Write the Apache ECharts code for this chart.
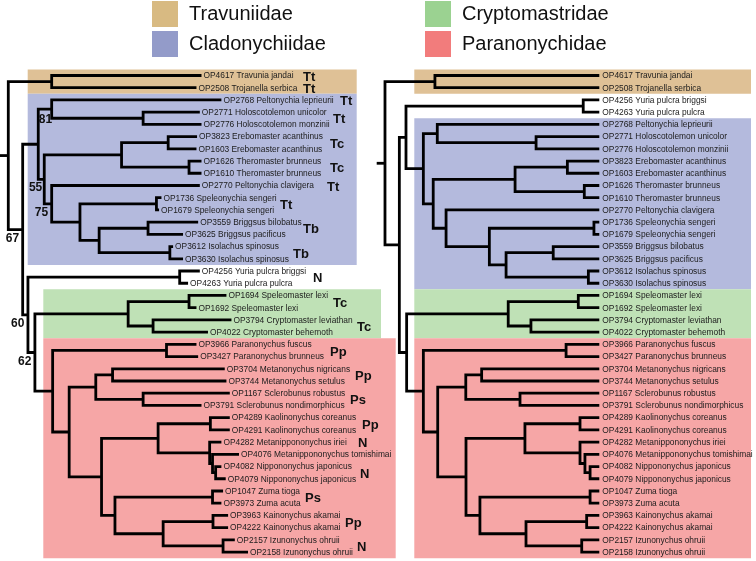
<!DOCTYPE html>
<html><head><meta charset="utf-8">
<script src="https://cdn.jsdelivr.net/npm/echarts@6/dist/echarts.min.js"></script>
<style>html,body{margin:0;padding:0;background:#fff}#c{width:756px;height:561px}</style>
</head><body><div id="c"></div>
<script>
// ---------------- DATA ----------------
const taxonIds = ['OP4617','OP2508','OP2768','OP2771','OP2776','OP3823','OP1603','OP1626','OP1610','OP2770',
  'OP1736','OP1679','OP3559','OP3625','OP3612','OP3630','OP4256','OP4263','OP1694','OP1692','OP3794','OP4022',
  'OP3966','OP3427','OP3704','OP3744','OP1167','OP3791','OP4289','OP4291','OP4282','OP4076','OP4082','OP4079',
  'OP1047','OP3973','OP3963','OP4222','OP2157','OP2158'];
const speciesNames = ['Travunia jandai','Trojanella serbica','Peltonychia leprieurii','Holoscotolemon unicolor',
  'Holoscotolemon monzinii','Erebomaster acanthinus','Erebomaster acanthinus','Theromaster brunneus','Theromaster brunneus',
  'Peltonychia clavigera','Speleonychia sengeri','Speleonychia sengeri','Briggsus bilobatus','Briggsus pacificus',
  'Isolachus spinosus','Isolachus spinosus','Yuria pulcra briggsi','Yuria pulcra pulcra','Speleomaster lexi',
  'Speleomaster lexi','Cryptomaster leviathan','Cryptomaster behemoth','Paranonychus fuscus','Paranonychus brunneus',
  'Metanonychus nigricans','Metanonychus setulus','Sclerobunus robustus','Sclerobunus nondimorphicus',
  'Kaolinonychus coreanus','Kaolinonychus coreanus','Metanippononychus iriei','Metanippononychus tomishimai',
  'Nippononychus japonicus','Nippononychus japonicus','Zuma tioga','Zuma acuta','Kainonychus akamai',
  'Kainonychus akamai','Izunonychus ohruii','Izunonychus ohruii'];

// Newick trees: "id:depth" for tips, ")support:depth" for clades (depth = position of node from root)
const leftTree =
  "((OP4617:0.806,OP2508:0.785):0.181," +
  "(((OP2768:0.889,(OP2771:0.799,OP2776:0.806):0.5625)81:0.181," +
  "(((OP3823:0.7875,OP1603:0.785):0.667,(OP1626:0.806,OP1610:0.806):0.754):0.4725," +
  "(OP2770:0.799,((OP1736:0.639,OP1679:0.629):0.618,((OP3559:0.792,OP3625:0.729):0.583,(OP3612:0.6875,OP3630:0.729):0.674):0.379):0.299)75:0.181):0.150)55:0.125," +
  "((OP4256:0.799,OP4263:0.75):0.715," +
  "(((OP1694:0.91,OP1692:0.785):0.754,(OP3794:0.931,OP4022:0.833):0.604):0.5," +
  "((OP3966:0.785,OP3427:0.792):0.66," +
  "(((OP3704:0.903,OP3744:0.91):0.435,(OP1167:0.924,OP3791:0.806):0.5625):0.365," +
  "(((OP4289:0.924,OP4291:0.924):0.843,(OP4282:0.889,(OP4076:0.9625,(OP4082:0.889,OP4079:0.907):0.865):0.852):0.840):0.625," +
  "((OP1047:0.896,OP3973:0.889):0.852,((OP3963:0.917,OP4222:0.917):0.854,(OP2157:0.945,OP2158:1.0):0.896):0.646):0.445):0.389):0.254):0.185)62:0.111)60:0.082)67:0.060):0";

const rightTree =
  "((OP4617:1,OP2508:1):0.233," +
  "(((OP4256:1,OP4263:1):0.925," +
  "((OP2768:1,(OP2771:1,OP2776:1):0.705):0.244," +
  "(((OP3823:1,OP1603:1):0.851,(OP1626:1,OP1610:1):0.930):0.607," +
  "(OP2770:1,((OP1736:1,OP1679:1):0.975,((OP3559:1,OP3625:1):0.785,(OP3612:1,OP3630:1):0.949):0.565):0.487):0.285):0.225):0.179):0.098," +
  "(((OP1694:1,OP1692:1):0.902,(OP3794:1,OP4022:1):0.681):0.575," +
  "((OP3966:1,OP3427:1):0.845," +
  "(((OP3704:1,OP3744:1):0.451,(OP1167:1,OP3791:1):0.630):0.377," +
  "(((OP4289:1,OP4291:1):0.910,(OP4282:1,(OP4076:1,(OP4082:1,OP4079:1):0.957):0.933):0.910):0.653," +
  "((OP1047:1,OP3973:1):0.957,((OP3963:1,OP4222:1):0.941,(OP2157:1,OP2158:1):0.918):0.658):0.443):0.378):0.246):0.179):0.101):0.067):0";

const families = ['Travuniidae','Cladonychiidae','Cryptomastridae','Paranonychidae'];
const familyFirst = ['OP4617','OP2768','OP1694','OP3966'];
const familyLast  = ['OP2508','OP3630','OP4022','OP2158'];

const codeTexts = ['Tt','Tt','Tt','Tt','Tc','Tc','Tt','Tt','Tb','Tb','N','Tc','Tc','Pp','Pp','Ps','Pp','N','N','Ps','Pp','N'];
const codeFirst = ['OP4617','OP2508','OP2768','OP2771','OP3823','OP1626','OP2770','OP1736','OP3559','OP3612','OP4256',
  'OP1694','OP3794','OP3966','OP3704','OP1167','OP4289','OP4282','OP4082','OP1047','OP3963','OP2157'];
const codeLast  = ['OP4617','OP2508','OP2768','OP2776','OP1603','OP1610','OP2770','OP1679','OP3625','OP3630','OP4263',
  'OP1692','OP4022','OP3427','OP3744','OP3791','OP4291','OP4282','OP4079','OP3973','OP4222','OP2158'];

// ---------------- STYLE ----------------
const FONT = '"Liberation Sans", Arial, Helvetica, sans-serif';
const LW = 2.8;
const boxColors = ['#dfc196','#b4badd','#bfe1b6','#f6a6a6'];
const swatchColors = ['#d8ba82','#939bc9','#9bd291','#f27c7c'];
const leftBoxX = [[27.7,356.7],[27.7,356.7],[43.3,381],[43.3,395.7]];
const rightBoxX = [[414.3,751],[414.3,751],[414.3,751],[414.3,751]];
const codeXpx = [303,303,340,333,330,330,327,280,303,293,313,333,357,330,355,350,362,358,360,305,345,357];
const bsOffsetDefault = [-3.5, 9];
const bsOffsetOverride = {'81':[0.5,10.5],'55':[4,43.7]};

// ---------------- TREE BUILD ----------------
function parseNewick(str){
  const s = str.replace(/\s+/g,'');
  let i = 0;
  function node(){
    const n = {children: []};
    if (s[i] === '('){
      i++;
      n.children.push(node());
      while (s[i] === ','){ i++; n.children.push(node()); }
      i++;
    }
    let lab = '';
    while (i < s.length && ':,()'.indexOf(s[i]) < 0) lab += s[i++];
    n.label = lab;
    if (s[i] === ':'){
      i++; let num = '';
      while (i < s.length && ',()'.indexOf(s[i]) < 0) num += s[i++];
      n.depth = parseFloat(num);
    }
    return n;
  }
  return node();
}
function build(str){
  const root = parseNewick(str);
  const leaves = [], internals = [], byId = {};
  (function walk(n){
    if (!n.children.length){ n.y = leaves.length; leaves.push(n); byId[n.label] = n; }
    else {
      n.children.forEach(walk);
      n.y = (n.children[0].y + n.children[n.children.length-1].y) / 2;
      internals.push(n);
    }
  })(root);
  return {root, leaves, internals, byId};
}
const LT = build(leftTree), RT = build(rightTree);
const nameOf = {};
taxonIds.forEach((id,k)=>{ nameOf[id] = speciesNames[k]; });

// ---------------- SERIES ----------------
const lineStyle = {stroke:'#000', lineWidth:LW, fill:'none', lineJoin:'miter', lineCap:'butt'};
function edgeSeries(T, ax, stubMin){
  return {
    type:'custom', xAxisIndex:ax, yAxisIndex:ax, clip:false, z:5, silent:true,
    data: T.internals.map(n=>[n.depth, n.y]),
    renderItem(params, api){
      const n = T.internals[params.dataIndex];
      const ch = n.children;
      const c0 = ch[0], c1 = ch[ch.length-1];
      const kids = [{type:'polyline', shape:{points:[
        api.coord([c0.depth, c0.y]), api.coord([n.depth, c0.y]),
        api.coord([n.depth, c1.y]), api.coord([c1.depth, c1.y])]}, style:lineStyle}];
      for (let k=1;k<ch.length-1;k++){
        kids.push({type:'polyline', shape:{points:[api.coord([n.depth, ch[k].y]), api.coord([ch[k].depth, ch[k].y])]}, style:lineStyle});
      }
      if (n === T.root){
        kids.push({type:'polyline', shape:{points:[api.coord([stubMin, n.y]), api.coord([n.depth, n.y])]}, style:lineStyle});
      }
      return {type:'group', children:kids};
    }
  };
}
function leafLabelSeries(T, ax, gap){
  return {
    type:'custom', xAxisIndex:ax, yAxisIndex:ax, clip:false, z:6, silent:true,
    data: T.leaves.map(l=>[l.depth, l.y]),
    renderItem(params, api){
      const l = T.leaves[params.dataIndex];
      const p = api.coord([l.depth, l.y]);
      return {type:'text', x:p[0]+gap, y:p[1]+0.5, style:{text: l.label + ' ' + nameOf[l.label], fill:'#1c1c1c',
        fontSize:8.4, fontFamily:FONT, align:'left', verticalAlign:'middle'}};
    }
  };
}
function boxSeries(T, ax, fi, xs){
  const a = T.byId[familyFirst[fi]].y, b = T.byId[familyLast[fi]].y;
  return {
    type:'custom', name: families[fi], xAxisIndex:ax, yAxisIndex:ax, clip:false, z:1, silent:true,
    itemStyle:{color: boxColors[fi]},
    data: [[0, a, b]],
    renderItem(params, api){
      const top = api.coord([0, api.value(1) - 0.5])[1];
      const bot = api.coord([0, api.value(2) + 0.5])[1];
      return {type:'rect', shape:{x:xs[0], y:top, width:xs[1]-xs[0], height:bot-top}, style:{fill: boxColors[fi]}};
    }
  };
}
const bsNodes = LT.internals.filter(n=>n.label !== '');
const bootstrapSeries = {
  type:'custom', xAxisIndex:0, yAxisIndex:0, clip:false, z:7, silent:true,
  data: bsNodes.map(n=>[n.depth, n.y]),
  renderItem(params, api){
    const n = bsNodes[params.dataIndex];
    const p = api.coord([n.depth, n.y]);
    const off = bsOffsetOverride[n.label] || bsOffsetDefault;
    return {type:'text', x:p[0]+off[0], y:p[1]+off[1], style:{text:n.label, fill:'#111', fontSize:12,
      fontWeight:'bold', fontFamily:FONT, align:'right', verticalAlign:'middle'}};
  }
};
const codeSeries = {
  type:'custom', xAxisIndex:0, yAxisIndex:0, clip:false, z:7, silent:true,
  data: codeTexts.map((t,k)=>[0, (LT.byId[codeFirst[k]].y + LT.byId[codeLast[k]].y)/2]),
  renderItem(params, api){
    const k = params.dataIndex;
    const y = api.coord([0, api.value(1)])[1];
    return {type:'text', x:codeXpx[k], y:y+1.5, style:{text:codeTexts[k], fill:'#111', fontSize:13,
      fontWeight:'bold', fontFamily:FONT, align:'left', verticalAlign:'middle'}};
  }
};

const series = [];
families.forEach((f,fi)=>{ series.push(boxSeries(LT,0,fi,leftBoxX[fi])); series.push(boxSeries(RT,1,fi,rightBoxX[fi])); });
series.push(edgeSeries(LT,0,-0.0346), edgeSeries(RT,1,-0.0387));
series.push(leafLabelSeries(LT,0,2), leafLabelSeries(RT,1,3));
series.push(bootstrapSeries, codeSeries);

const legendBase = {orient:'vertical', top:1, itemWidth:26, itemHeight:26, itemGap:4, icon:'rect', padding:0,
  selectedMode:false, textStyle:{fontSize:20, fontFamily:FONT, color:'#111', padding:[0,0,0,6]}};
const option = {
  animation:false,
  backgroundColor:'#fff',
  legend:[
    Object.assign({}, legendBase, {left:152, data:[0,1].map(k=>({name:families[k], itemStyle:{color:swatchColors[k]}}))}),
    Object.assign({}, legendBase, {left:425, data:[2,3].map(k=>({name:families[k], itemStyle:{color:swatchColors[k]}}))})
  ],
  grid:[
    {left:0, top:75.5, width:248, height:39*12.22},
    {left:376.7, top:75.5, width:222.6, height:39*12.22}
  ],
  xAxis:[
    {type:'value', gridIndex:0, min:-0.0346, max:1, show:false},
    {type:'value', gridIndex:1, min:-0.0387, max:1, show:false}
  ],
  yAxis:[
    {type:'value', gridIndex:0, min:0, max:39, inverse:true, show:false},
    {type:'value', gridIndex:1, min:0, max:39, inverse:true, show:false}
  ],
  series
};
const chart = echarts.init(document.getElementById('c'), null, {renderer:'canvas'});
chart.setOption(option);
</script>
</body></html>
